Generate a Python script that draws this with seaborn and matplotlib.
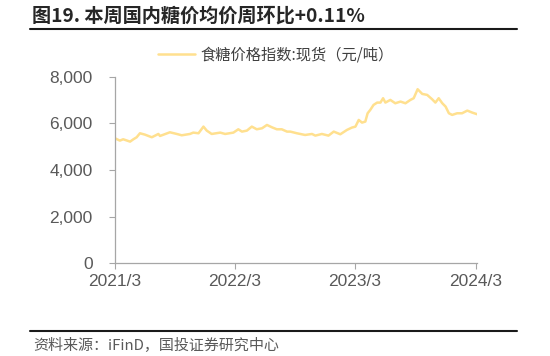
import matplotlib
matplotlib.use("Agg")
import matplotlib.pyplot as plt
from matplotlib.lines import Line2D
from matplotlib.ticker import FuncFormatter
import pandas as pd
import seaborn as sns

title = "图19. 本周国内糖价均价周环比+0.11%"
series_name = "食糖价格指数:现货（元/吨）"
source = "资料来源：iFinD，国投证券研究中心"

dates = [
    "2021-03-01", "2021-03-16", "2021-03-26", "2021-04-16", "2021-04-26", "2021-05-06",
    "2021-05-16", "2021-05-31", "2021-06-21", "2021-07-11", "2021-07-16", "2021-08-15",
    "2021-09-05", "2021-09-20", "2021-10-15", "2021-10-25", "2021-11-10", "2021-11-25",
    "2021-12-05", "2021-12-20", "2022-01-15", "2022-01-30", "2022-02-24", "2022-03-11",
    "2022-03-22", "2022-04-06", "2022-04-21", "2022-05-06", "2022-05-22", "2022-06-06",
    "2022-06-21", "2022-07-06", "2022-07-21", "2022-08-06", "2022-08-16", "2022-09-05",
    "2022-09-30", "2022-10-21", "2022-10-31", "2022-11-20", "2022-12-10", "2022-12-26",
    "2023-01-15", "2023-02-04", "2023-02-19", "2023-03-02", "2023-03-12", "2023-03-22",
    "2023-04-01", "2023-04-08", "2023-04-16", "2023-04-26", "2023-05-07", "2023-05-17",
    "2023-05-25", "2023-06-01", "2023-06-16", "2023-07-01", "2023-07-17", "2023-08-01",
    "2023-08-16", "2023-08-26", "2023-09-07", "2023-09-21", "2023-10-06", "2023-10-21",
    "2023-10-31", "2023-11-10", "2023-11-21", "2023-12-01", "2023-12-11", "2023-12-21",
    "2024-01-05", "2024-01-20", "2024-02-05", "2024-02-20", "2024-03-06",
]
prices = [
    5363, 5262, 5320, 5219, 5320, 5406,
    5578, 5520, 5406, 5548, 5462, 5620,
    5548, 5491, 5548, 5606, 5578, 5864,
    5692, 5548, 5606, 5548, 5606, 5749,
    5649, 5692, 5864, 5749, 5792, 5935,
    5835, 5749, 5749, 5649, 5649, 5578,
    5505, 5548, 5477, 5548, 5477, 5649,
    5535, 5720, 5821, 5864, 6150, 6036,
    6080, 6437, 6580, 6796, 6896, 6896,
    7083, 6896, 7011, 6867, 6939, 6867,
    7011, 7083, 7470, 7269, 7226, 7040,
    6896, 7083, 6867, 6724, 6437, 6366,
    6437, 6437, 6552, 6466, 6395,
]
x_ticks = ["2021-03-01", "2022-03-01", "2023-03-01", "2024-03-01"]
x_tick_labels = ["2021/3", "2022/3", "2023/3", "2024/3"]
y_ticks = [0, 2000, 4000, 6000, 8000]

df = pd.DataFrame({"date": pd.to_datetime(dates), "value": prices, "series": series_name})

sns.set_style("white")
cjk = ["Noto Sans CJK SC", "DejaVu Sans"]
plt.rcParams["font.family"] = cjk

fig = plt.figure(figsize=(5.5, 3.56), dpi=100)
ax = fig.add_axes([0.209, 0.261, 0.658, 0.523])

sns.lineplot(data=df, x="date", y="value", hue="series", palette=["#FFE08F"],
             linewidth=1.8, ax=ax)

ax.set_ylim(0, 8000)
ax.set_xlim(pd.Timestamp("2021-03-01"), pd.Timestamp("2024-03-05"))
ax.set_yticks(y_ticks)
ax.yaxis.set_major_formatter(FuncFormatter(lambda v, p: f"{int(v):,}"))
ax.set_xticks(pd.to_datetime(x_ticks))
ax.set_xticklabels(x_tick_labels)
ax.set_xlabel("")
ax.set_ylabel("")

for s in ["top", "right"]:
    ax.spines[s].set_visible(False)
for s in ["left", "bottom"]:
    ax.spines[s].set_color("#A6A6A6")
    ax.spines[s].set_linewidth(0.9)

ax.tick_params(axis="y", direction="out", length=4, width=0.8, color="#A6A6A6",
               labelsize=12.5, labelcolor="#595959", pad=12, left=True)
ax.tick_params(axis="x", direction="out", length=4, width=0.8, color="#A6A6A6",
               labelsize=12.5, labelcolor="#595959", pad=4, bottom=True)
for lbl in ax.get_xticklabels() + ax.get_yticklabels():
    lbl.set_family(["Liberation Sans", "DejaVu Sans"])

leg = ax.legend(loc="lower center", bbox_to_anchor=(0.445, 1.04), frameon=False,
                handlelength=2.4, handletextpad=0.4, fontsize=11, borderaxespad=0)
for t in leg.get_texts():
    t.set_color("#404040")

fig.text(0.058, 0.955, title, fontsize=13.8, fontweight="bold", color="#262626",
         va="center", ha="left", family=cjk)
fig.add_artist(Line2D([0.055, 0.94], [0.918, 0.918], color="#1a1a1a", linewidth=1.5,
                      transform=fig.transFigure))
fig.add_artist(Line2D([0.055, 0.94], [0.070, 0.070], color="#1a1a1a", linewidth=1.5,
                      transform=fig.transFigure))
fig.text(0.06, 0.030, source, fontsize=10.8, color="#595959", va="center", ha="left",
         family=cjk, style="italic")

fig.savefig("out.png", dpi=100)
